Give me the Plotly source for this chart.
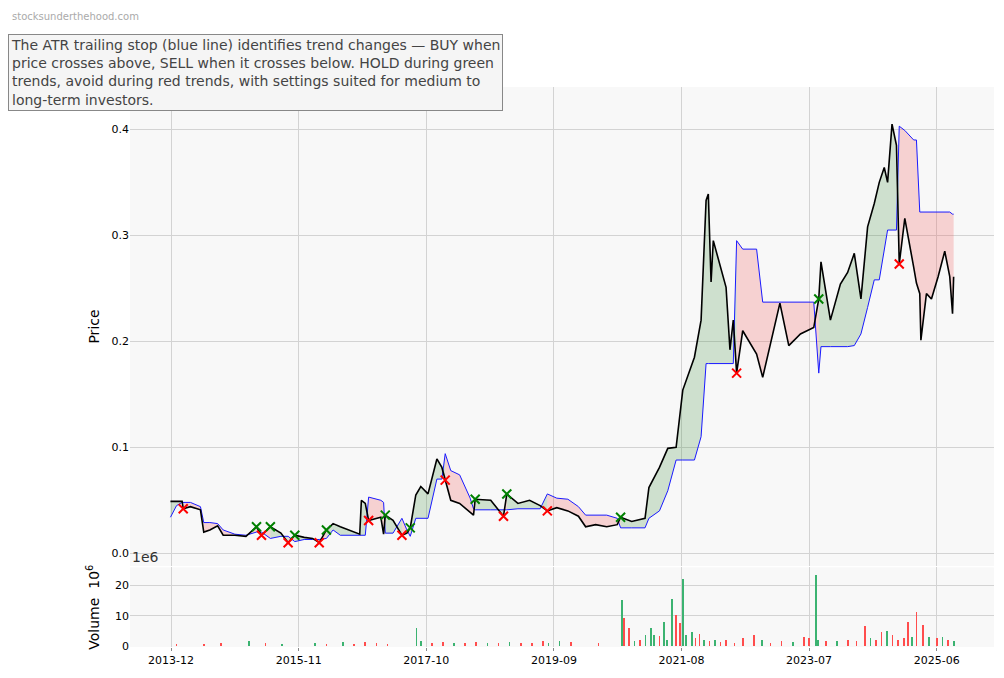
import pandas as pd
import plotly.graph_objects as go

START = "2013-12-01"
# months elapsed since 2013-12, close price, ATR trailing stop
months = [-0.1,1.0,2.0,2.2,3.5,5.3,5.9,7.0,8.4,9.4,11.5,13.5,15.4,16.3,17.9,19.8,21.1,22.3,24.0,25.5,
          26.7,28.0,29.2,30.5,34.0,34.3,35.0,35.6,37.8,38.3,38.6,40.0,41.6,42.5,43.1,44.1,45.0,46.3,47.9,48.8,
          49.4,50.4,52.0,53.9,54.5,54.8,57.6,59.9,60.5,62.5,64.6,66.5,67.8,69.5,71.5,73.4,74.7,76.5,78.5,80.4,
          81.0,83.0,85.4,86.1,88.0,89.5,91.0,92.2,94.3,95.5,96.4,96.8,97.3,97.7,99.0,100.0,100.7,101.3,101.9,103.0,
          105.5,106.6,109.7,111.3,113.4,115.8,116.7,117.1,118.8,120.6,121.9,123.1,124.3,125.5,126.7,127.6,128.5,129.1,129.9,130.7,
          131.2,132.2,133.8,134.3,134.9,135.1,136.1,137.0,138.2,139.4,140.3,140.8,141.0]
price = [0.049,0.049,0.049,0.042,0.044,0.041,0.020,0.022,0.026,0.017,0.017,0.016,0.025,0.017,0.025,0.019,0.010,0.017,0.015,0.014,
         0.010,0.022,0.028,0.025,0.018,0.050,0.047,0.031,0.034,0.018,0.036,0.031,0.017,0.019,0.024,0.055,0.063,0.056,0.089,0.081,
         0.069,0.050,0.047,0.039,0.036,0.051,0.050,0.035,0.056,0.047,0.050,0.045,0.040,0.043,0.040,0.035,0.025,0.027,0.025,0.027,
         0.034,0.030,0.033,0.062,0.081,0.099,0.100,0.154,0.185,0.220,0.333,0.339,0.256,0.295,0.270,0.251,0.192,0.220,0.170,0.210,
         0.188,0.166,0.236,0.196,0.207,0.213,0.240,0.275,0.220,0.254,0.265,0.283,0.240,0.308,0.330,0.350,0.364,0.350,0.405,0.385,
         0.273,0.316,0.270,0.255,0.245,0.201,0.245,0.240,0.261,0.285,0.261,0.226,0.261]
stop = [0.034,0.045,0.048,0.048,0.048,0.044,0.029,0.029,0.028,0.022,0.018,0.017,0.020,0.020,0.014,0.016,0.016,0.011,0.013,0.013,
        0.013,0.014,0.022,0.017,0.017,0.017,0.017,0.053,0.050,0.048,0.019,0.019,0.033,0.022,0.016,0.033,0.033,0.033,0.070,0.070,
        0.094,0.078,0.074,0.052,0.042,0.041,0.041,0.041,0.041,0.042,0.042,0.042,0.056,0.052,0.051,0.044,0.036,0.036,0.036,0.033,
        0.024,0.024,0.024,0.033,0.040,0.059,0.088,0.088,0.088,0.110,0.179,0.179,0.179,0.179,0.179,0.179,0.179,0.179,0.295,0.287,
        0.287,0.237,0.237,0.237,0.237,0.237,0.170,0.195,0.195,0.195,0.195,0.196,0.207,0.232,0.258,0.258,0.286,0.305,0.305,0.305,
        0.403,0.399,0.390,0.390,0.322,0.322,0.322,0.322,0.322,0.322,0.322,0.320,0.320]

# volume spikes (months since start, millions, up-day?)
vol_months = [1,6,9,14,17,20,26,28,31,33,35,37,39,44.2,45,47,49,51,53,55,57,59,61,63,65,67,68,70,72,77,
              81.3,81.6,82.5,83.5,84.5,85.5,86.5,87,88,88.8,89.4,90.3,91,91.7,92.2,92.8,93.9,94.5,95.2,96,97,98,99,100,101.5,
              103,105,106.5,108,110,112,114,115,116.2,116.6,118,120,122,123.5,125,126,127,128,129,130,131,132,132.8,
              133.5,134.3,135.5,136.5,138,139,140,141]
vol = [0.4,0.6,0.8,1.5,0.8,0.7,0.8,0.6,1.4,0.6,1.2,0.8,0.6,6.0,1.5,1.0,1.3,0.8,1.0,1.2,0.9,1.0,1.3,0.8,1.0,1.6,1.0,1.7,1.2,0.8,
       15.0,9.0,5.8,1.5,2.0,3.5,6.0,3.5,3.2,8.0,2.0,15.5,10.0,7.5,22.0,3.5,4.5,2.5,4.0,2.0,1.5,2.0,1.2,2.0,1.0,
       2.5,3.5,2.0,1.0,1.5,1.2,3.0,2.5,23.5,2.0,1.5,1.5,2.0,1.5,6.5,2.5,2.0,4.5,5.0,3.5,2.0,2.5,8.0,
       3.0,11.0,7.0,3.0,2.5,3.0,2.0,1.5]
vol_up = [0,0,0,1,0,1,1,0,1,0,0,0,0,1,1,0,0,1,0,0,1,0,1,0,0,0,1,1,0,0,
          1,0,0,1,0,1,1,1,0,1,1,1,0,0,1,1,1,0,0,1,0,1,0,0,0,
          0,0,1,0,0,1,0,0,1,1,0,1,0,0,0,1,0,0,1,0,0,0,0,
          1,0,0,1,0,1,0,1]

tick_labels = ["2013-12","2015-11","2017-10","2019-09","2021-08","2023-07","2025-06"]

start = pd.Timestamp(START)
def to_date(m):
    return start + pd.Timedelta(days=m * 30.44)

dates = [to_date(m) for m in months]
vdates = [to_date(m) for m in vol_months]
up = [p >= s for p, s in zip(price, stop)]

fig = go.Figure()
GREEN_F = "rgba(60,140,60,0.22)"
RED_F = "rgba(240,90,90,0.25)"

i = 0
n = len(price)
while i < n:
    j = i
    while j + 1 < n and up[j + 1] == up[i]:
        j += 1
    end = min(j + 1, n - 1)
    seg = slice(i, end + 1)
    fig.add_trace(go.Scatter(x=dates[seg], y=stop[seg], mode="lines", line=dict(width=0),
                             showlegend=False, hoverinfo="skip", xaxis="x", yaxis="y"))
    fig.add_trace(go.Scatter(x=dates[seg], y=price[seg], mode="lines", line=dict(width=0),
                             fill="tonexty", fillcolor=GREEN_F if up[i] else RED_F,
                             showlegend=False, hoverinfo="skip", xaxis="x", yaxis="y"))
    i = j + 1

fig.add_trace(go.Scatter(x=dates, y=stop, mode="lines", line=dict(color="#1a1aff", width=1),
                         showlegend=False, xaxis="x", yaxis="y"))
fig.add_trace(go.Scatter(x=dates, y=price, mode="lines", line=dict(color="black", width=1.6),
                         showlegend=False, xaxis="x", yaxis="y"))

bx, by, sx, sy = [], [], [], []
for k in range(1, n):
    if up[k] and not up[k - 1]:
        bx.append(dates[k]); by.append(price[k])
    elif not up[k] and up[k - 1]:
        sx.append(dates[k]); sy.append(price[k])
fig.add_trace(go.Scatter(x=bx, y=by, mode="markers", showlegend=False,
                         marker=dict(symbol="x-thin", size=9, line=dict(color="green", width=2)),
                         xaxis="x", yaxis="y"))
fig.add_trace(go.Scatter(x=sx, y=sy, mode="markers", showlegend=False,
                         marker=dict(symbol="x-thin", size=9, line=dict(color="red", width=2)),
                         xaxis="x", yaxis="y"))

fig.add_trace(go.Bar(x=vdates, y=vol, width=4 * 86400000,
                     marker=dict(color=["#3cb371" if u else "#ff4d4d" for u in vol_up], line=dict(width=0)),
                     showlegend=False, xaxis="x2", yaxis="y2"))

tickvals = [pd.Timestamp(t + "-01") for t in tick_labels]
xr = [pd.Timestamp("2013-04-20"), pd.Timestamp("2026-04-10")]
grid = "#d3d3d3"
fig.update_layout(
    width=1004, height=678, margin=dict(l=0, r=0, t=0, b=0),
    paper_bgcolor="white", plot_bgcolor="#f8f8f8",
    font=dict(family="DejaVu Sans", size=11, color="black"),
    bargap=0,
    xaxis=dict(domain=[0.1215, 0.982], range=xr, anchor="y", tickvals=tickvals, showticklabels=False,
               showgrid=True, gridcolor=grid, zeroline=False, automargin=False),
    yaxis=dict(domain=[0.177, 0.8835], range=[-0.012, 0.44], tickvals=[0, 0.1, 0.2, 0.3, 0.4],
               ticktext=["0.0", "0.1", "0.2", "0.3", "0.4"], showgrid=True, gridcolor=grid,
               zeroline=False, automargin=False, ticks="", title=dict(text="Price", font=dict(size=14), standoff=8)),
    xaxis2=dict(domain=[0.1215, 0.982], range=xr, anchor="y2", tickvals=tickvals, ticktext=tick_labels,
                showgrid=True, gridcolor=grid, zeroline=False, automargin=False, ticks="outside", ticklen=3,
                tickcolor="#888"),
    yaxis2=dict(domain=[0.0575, 0.175], range=[-0.3, 26], tickvals=[0, 10, 20], showgrid=True, gridcolor=grid,
                zeroline=False, automargin=False, title=dict(text="Volume  10<sup>6</sup>", font=dict(size=14), standoff=12)),
)
fig.add_annotation(xref="paper", yref="paper", x=0.122, y=0.176, xanchor="left", yanchor="bottom",
                   text="1e6", showarrow=False, font=dict(size=14, color="#333"))
fig.add_annotation(xref="paper", yref="paper", x=0.002, y=0.998, xanchor="left", yanchor="top",
                   text="stocksunderthehood.com", showarrow=False, font=dict(size=10, color="#aaa"))
fig.add_annotation(xref="paper", yref="paper", x=0.0, y=0.962, xanchor="left", yanchor="top", align="left",
                   text="The ATR trailing stop (blue line) identifies trend changes — BUY when<br>"
                        "price crosses above, SELL when it crosses below. HOLD during green<br>"
                        "trends, avoid during red trends, with settings suited for medium to<br>"
                        "long-term investors.",
                   showarrow=False, font=dict(size=14, color="#444"), bgcolor="#f5f5f5",
                   bordercolor="#888", borderwidth=1, borderpad=2)
fig.write_html("out.html")
